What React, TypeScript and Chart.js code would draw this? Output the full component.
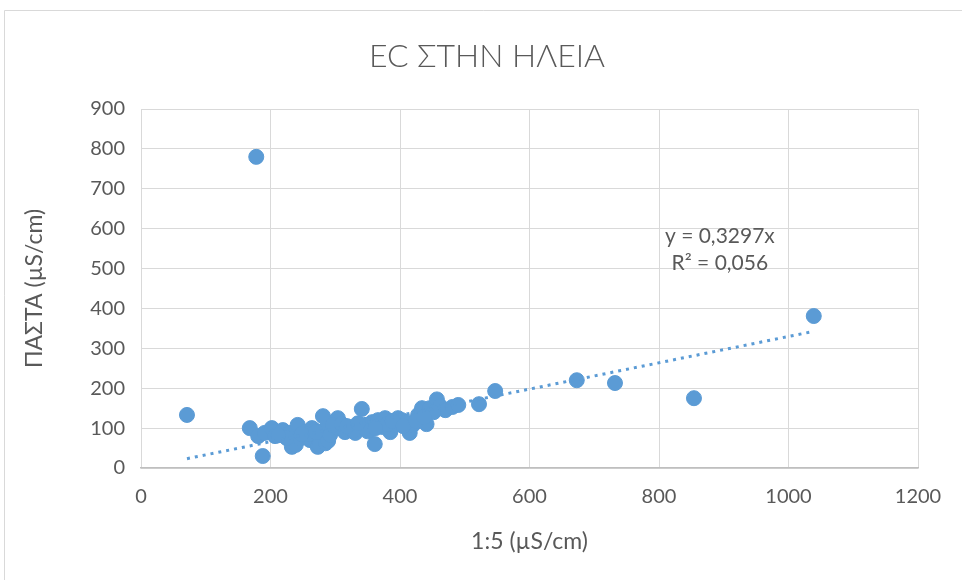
import { useEffect, useRef } from "react";
import { Chart, registerables } from "chart.js";

Chart.register(...registerables);

const TITLE = "EC ΣΤΗΝ ΗΛΕΙΑ";
const X_TITLE = "1:5 (µS/cm)";
const Y_TITLE = "ΠΑΣΤΑ (µS/cm)";

const xValues = [
  71, 178, 168, 188, 181, 191, 202, 207, 219, 230, 233, 239, 242, 246, 253, 261,
  264, 273, 273, 276, 283, 285, 281, 289, 292, 302, 304, 304, 315, 323, 331, 338,
  341, 346, 354, 357, 361, 366, 372, 377, 385, 392, 397, 403, 415, 420, 428, 434,
  441, 446, 457, 462, 470, 481, 490, 522, 547, 673, 732, 854, 1039, 225, 258, 268,
  296, 310, 328, 350, 380, 410, 318, 335, 362, 388, 405, 425, 452, 437, 270, 248,
  212,
];
const yValues = [
  133, 780, 100, 30, 80, 88, 100, 80, 95, 88, 53, 58, 108, 75, 90, 70,
  100, 83, 53, 58, 95, 62, 130, 68, 83, 120, 100, 125, 90, 100, 88, 103,
  148, 108, 95, 115, 60, 120, 103, 125, 90, 108, 125, 120, 88, 108, 133, 150,
  110, 150, 172, 155, 145, 153, 158, 160, 193, 220, 213, 175, 381, 75, 85, 95,
  108, 110, 95, 92, 110, 115, 105, 112, 100, 118, 105, 118, 140, 128, 90, 85,
  82,
];

const TREND_SLOPE = 0.3297;
const TREND_LABELS = ["y = 0,3297x", "R² = 0,056"];
const TREND_LABEL_X = 894;
const TREND_LABEL_Y = [581, 514];

const X_MIN = 0;
const X_MAX = 1200;
const X_STEP = 200;
const Y_MIN = 0;
const Y_MAX = 900;
const Y_STEP = 100;

const BLUE = "#5B9BD5";
const TEXT = "#595959";
const GRID = "#D9D9D9";
const FONT = "Lato, 'Open Sans', sans-serif";

export default function App() {
  const ref = useRef<HTMLCanvasElement | null>(null);

  useEffect(() => {
    if (!ref.current) return;
    const points = xValues.map((x, i) => ({ x, y: yValues[i] }));
    const xLo = Math.min(...xValues);
    const xHi = Math.max(...xValues);
    const trend = [
      { x: xLo, y: TREND_SLOPE * xLo },
      { x: xHi, y: TREND_SLOPE * xHi },
    ];

    const framePlugin = {
      id: "frame",
      beforeDraw(chart: any) {
        const ctx = chart.ctx;
        ctx.save();
        ctx.fillStyle = "#ffffff";
        ctx.fillRect(0, 0, chart.width, chart.height);
        ctx.strokeStyle = GRID;
        ctx.lineWidth = 1;
        ctx.beginPath();
        ctx.moveTo(4.5, chart.height);
        ctx.lineTo(4.5, 10.5);
        ctx.lineTo(chart.width, 10.5);
        ctx.stroke();
        ctx.fillStyle = TEXT;
        ctx.font = `300 32px ${FONT}`;
        ctx.textAlign = "center";
        ctx.textBaseline = "middle";
        ctx.fillText(TITLE, 487, 57);
        ctx.restore();
      },
      afterDatasetsDraw(chart: any) {
        const ctx = chart.ctx;
        const xs = chart.scales.x;
        const ys = chart.scales.y;
        ctx.save();
        ctx.fillStyle = TEXT;
        ctx.font = `21px ${FONT}`;
        ctx.textAlign = "center";
        ctx.textBaseline = "middle";
        TREND_LABELS.forEach((t, i) => {
          ctx.fillText(t, xs.getPixelForValue(TREND_LABEL_X), ys.getPixelForValue(TREND_LABEL_Y[i]));
        });
        ctx.restore();
      },
    };

    const chart = new Chart(ref.current, {
      type: "scatter",
      data: {
        datasets: [
          {
            type: "line",
            data: trend,
            borderColor: BLUE,
            borderWidth: 3,
            borderDash: [3, 5],
            pointRadius: 0,
            fill: false,
            order: 0,
          } as any,
          {
            data: points,
            backgroundColor: BLUE,
            borderColor: BLUE,
            borderWidth: 1,
            pointRadius: 7.5,
            order: 1,
          },
        ],
      },
      plugins: [framePlugin],
      options: {
        animation: false,
        responsive: false,
        layout: { padding: { left: 0, right: 44, top: 109, bottom: 0 } },
        plugins: {
          legend: { display: false },
          tooltip: { enabled: false },
          title: { display: false },
        },
        scales: {
          x: {
            type: "linear",
            min: X_MIN,
            max: X_MAX,
            afterFit: (s: any) => {
              s.height = 112;
            },
            ticks: {
              stepSize: X_STEP,
              color: TEXT,
              padding: 17,
              font: { family: FONT, size: 20 },
              callback: (v: any) => String(v),
            },
            grid: { color: GRID, drawTicks: false },
            border: { color: "#BFBFBF", width: 1.5 },
            title: {
              display: true,
              text: X_TITLE,
              color: TEXT,
              font: { family: FONT, size: 23 },
              padding: { top: 0, bottom: 25 },
            },
          },
          y: {
            type: "linear",
            min: Y_MIN,
            max: Y_MAX,
            afterFit: (s: any) => {
              s.width = 141;
            },
            ticks: {
              stepSize: Y_STEP,
              color: TEXT,
              padding: 16,
              font: { family: FONT, size: 20 },
              callback: (v: any) => String(v),
            },
            grid: { color: GRID, drawTicks: false },
            border: { display: false },
            title: {
              display: true,
              text: Y_TITLE,
              color: TEXT,
              font: { family: FONT, size: 23 },
              padding: { top: 21, bottom: 0 },
            },
          },
        },
      },
    });
    return () => chart.destroy();
  }, []);

  return (
    <div style={{ position: "absolute", left: 0, top: 0, width: 962, height: 580 }}>
      <canvas ref={ref} width={962} height={580} />
    </div>
  );
}
